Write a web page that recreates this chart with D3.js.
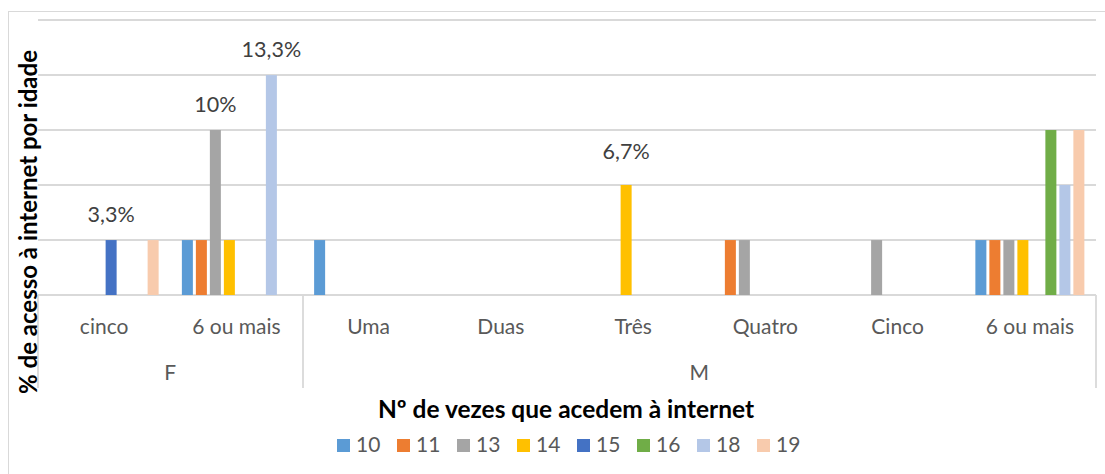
<!DOCTYPE html>
<html>
<head>
<meta charset="utf-8">
<script src="https://cdn.jsdelivr.net/npm/d3@7"></script>
<style>
  body { margin: 0; background: #fff; }
  svg { display: block; font-family: Lato, "Open Sans", sans-serif; }
</style>
</head>
<body>
<div id="chart"></div>
<script>
// series = age groups
const ages = ["10", "11", "13", "14", "15", "16", "18", "19"]
const ageColors = ["#5b9bd5", "#ed7d31", "#a5a5a5", "#ffc000", "#4472c4", "#70ad47", "#b4c7e7", "#f8cbad"]

// two level categories: sex -> nr of times
const sexes = ["F", "M"]
const timesF = ["cinco", "6 ou mais"]
const timesM = ["Uma", "Duas", "Três", "Quatro", "Cinco", "6 ou mais"]

// % per category, one value per age (same order as ages)
const valsF = [
  [0, 0, 0, 0, 3.33, 0, 0, 3.33],          // cinco
  [3.33, 3.33, 10, 3.33, 0, 0, 13.33, 0]   // 6 ou mais
]
const valsM = [
  [3.33, 0, 0, 0, 0, 0, 0, 0],             // Uma
  [0, 0, 0, 0, 0, 0, 0, 0],                // Duas
  [0, 0, 0, 6.67, 0, 0, 0, 0],             // Três
  [0, 3.33, 3.33, 0, 0, 0, 0, 0],          // Quatro
  [0, 0, 3.33, 0, 0, 0, 0, 0],             // Cinco
  [3.33, 3.33, 3.33, 3.33, 0, 10, 6.67, 10] // 6 ou mais
]

// which bars get a data label: [sex, times, age]
const labelled = [
  ["F", "cinco", "15"],
  ["F", "6 ou mais", "13"],
  ["F", "6 ou mais", "18"],
  ["M", "Três", "14"]
]

const gridValues = [0, 3.33, 6.67, 10, 13.33, 16.67]
const yTitle = "% de acesso à internet por idade"
const xTitle = "Nº de vezes que acedem à internet"

// build flat rows
let cats = []
timesF.forEach((t, i) => cats.push({sex: "F", times: t, key: "F|" + t, vals: valsF[i]}))
timesM.forEach((t, i) => cats.push({sex: "M", times: t, key: "M|" + t, vals: valsM[i]}))

let bars = []
cats.forEach(c => {
  c.vals.forEach((v, i) => {
    if (v > 0) bars.push({key: c.key, sex: c.sex, times: c.times, age: ages[i], value: v})
  })
})

const W = 1105, H = 474
const plot = {left: 38, right: 1096, top: 20, bottom: 295}

const svg = d3.select("#chart").append("svg")
  .attr("width", W)
  .attr("height", H)

// outer chart border
svg.append("rect")
  .attr("x", 8.5).attr("y", 11.5)
  .attr("width", W).attr("height", H - 3)
  .attr("fill", "none")
  .attr("stroke", "#d9d9d9")
  .attr("stroke-width", 1)

const x0 = d3.scaleBand()
  .domain(cats.map(d => d.key))
  .range([plot.left, plot.right])

const x1 = d3.scaleBand()
  .domain(ages)
  .range([0, x0.bandwidth()])
  .paddingInner(0.214)
  .paddingOuter(0.83)

const y = d3.scaleLinear()
  .domain([0, 16.67])
  .range([plot.bottom, plot.top])

const color = d3.scaleOrdinal().domain(ages).range(ageColors)

// gridlines
svg.append("g")
  .selectAll("line")
  .data(gridValues)
  .join("line")
    .attr("x1", plot.left)
    .attr("x2", plot.right)
    .attr("y1", d => Math.round(y(d)))
    .attr("y2", d => Math.round(y(d)))
    .attr("stroke", "#d9d9d9")
    .attr("stroke-width", 1.8)

// bars
svg.append("g")
  .selectAll("rect")
  .data(bars)
  .join("rect")
    .attr("x", d => x0(d.key) + x1(d.age))
    .attr("y", d => y(d.value))
    .attr("width", x1.bandwidth())
    .attr("height", d => y(0) - y(d.value))
    .attr("fill", d => color(d.age))

// data labels
const loc = d3.formatLocale({decimal: ",", thousands: ".", grouping: [3], currency: ["", "€"]})
const fmt = loc.format(".1~f")
const labelNudge = {"M|Três|14": -8}
const labelData = labelled.map(l => bars.find(b => b.sex == l[0] && b.times == l[1] && b.age == l[2]))

svg.append("g")
  .selectAll("text")
  .data(labelData)
  .join("text")
    .attr("x", d => x0(d.key) + x1(d.age) + x1.bandwidth() / 2)
    .attr("y", d => y(d.value) - 18 + (labelNudge[d.key + "|" + d.age] || 0))
    .attr("text-anchor", "middle")
    .attr("fill", "#404040")
    .style("font-size", "21.5px")
    .text(d => fmt(d.value) + "%")

// category axis: inner labels
svg.append("g")
  .selectAll("text")
  .data(cats)
  .join("text")
    .attr("x", d => x0(d.key) + x0.bandwidth() / 2)
    .attr("y", 334)
    .attr("text-anchor", "middle")
    .attr("fill", "#595959")
    .style("font-size", "21px")
    .text(d => d.times)

// group separators + outer labels
const groupEdges = sexes.map(s => {
  let ks = cats.filter(c => c.sex == s).map(c => c.key)
  return {sex: s, x0: x0(ks[0]), x1: x0(ks[ks.length - 1]) + x0.bandwidth()}
})

let seps = [plot.left].concat(groupEdges.map(g => g.x1))
svg.append("g")
  .selectAll("line")
  .data(seps)
  .join("line")
    .attr("x1", d => Math.round(d))
    .attr("x2", d => Math.round(d))
    .attr("y1", plot.bottom)
    .attr("y2", 388)
    .attr("stroke", "#d9d9d9")
    .attr("stroke-width", 1.8)

svg.append("g")
  .selectAll("text")
  .data(groupEdges)
  .join("text")
    .attr("x", d => (d.x0 + d.x1) / 2)
    .attr("y", 380)
    .attr("text-anchor", "middle")
    .attr("fill", "#595959")
    .style("font-size", "21px")
    .text(d => d.sex)

// axis titles
svg.append("text")
  .attr("x", 566)
  .attr("y", 418)
  .attr("text-anchor", "middle")
  .attr("fill", "#000")
  .style("font-size", "24.5px")
  .style("font-weight", "bold")
  .text(xTitle)

svg.append("text")
  .attr("transform", "translate(37,222) rotate(-90)")
  .attr("text-anchor", "middle")
  .attr("fill", "#000")
  .style("font-size", "24px")
  .style("font-weight", "bold")
  .text(yTitle)

// legend
const legend = svg.append("g")
  .selectAll("g")
  .data(ages)
  .join("g")
    .attr("transform", (d, i) => `translate(${337 + i * 60},0)`)

legend.append("rect")
  .attr("x", 0).attr("y", 439)
  .attr("width", 13).attr("height", 13)
  .attr("fill", d => color(d))

legend.append("text")
  .attr("x", 19)
  .attr("y", 452)
  .attr("fill", "#595959")
  .style("font-size", "21px")
  .text(d => d)
</script>
</body>
</html>
